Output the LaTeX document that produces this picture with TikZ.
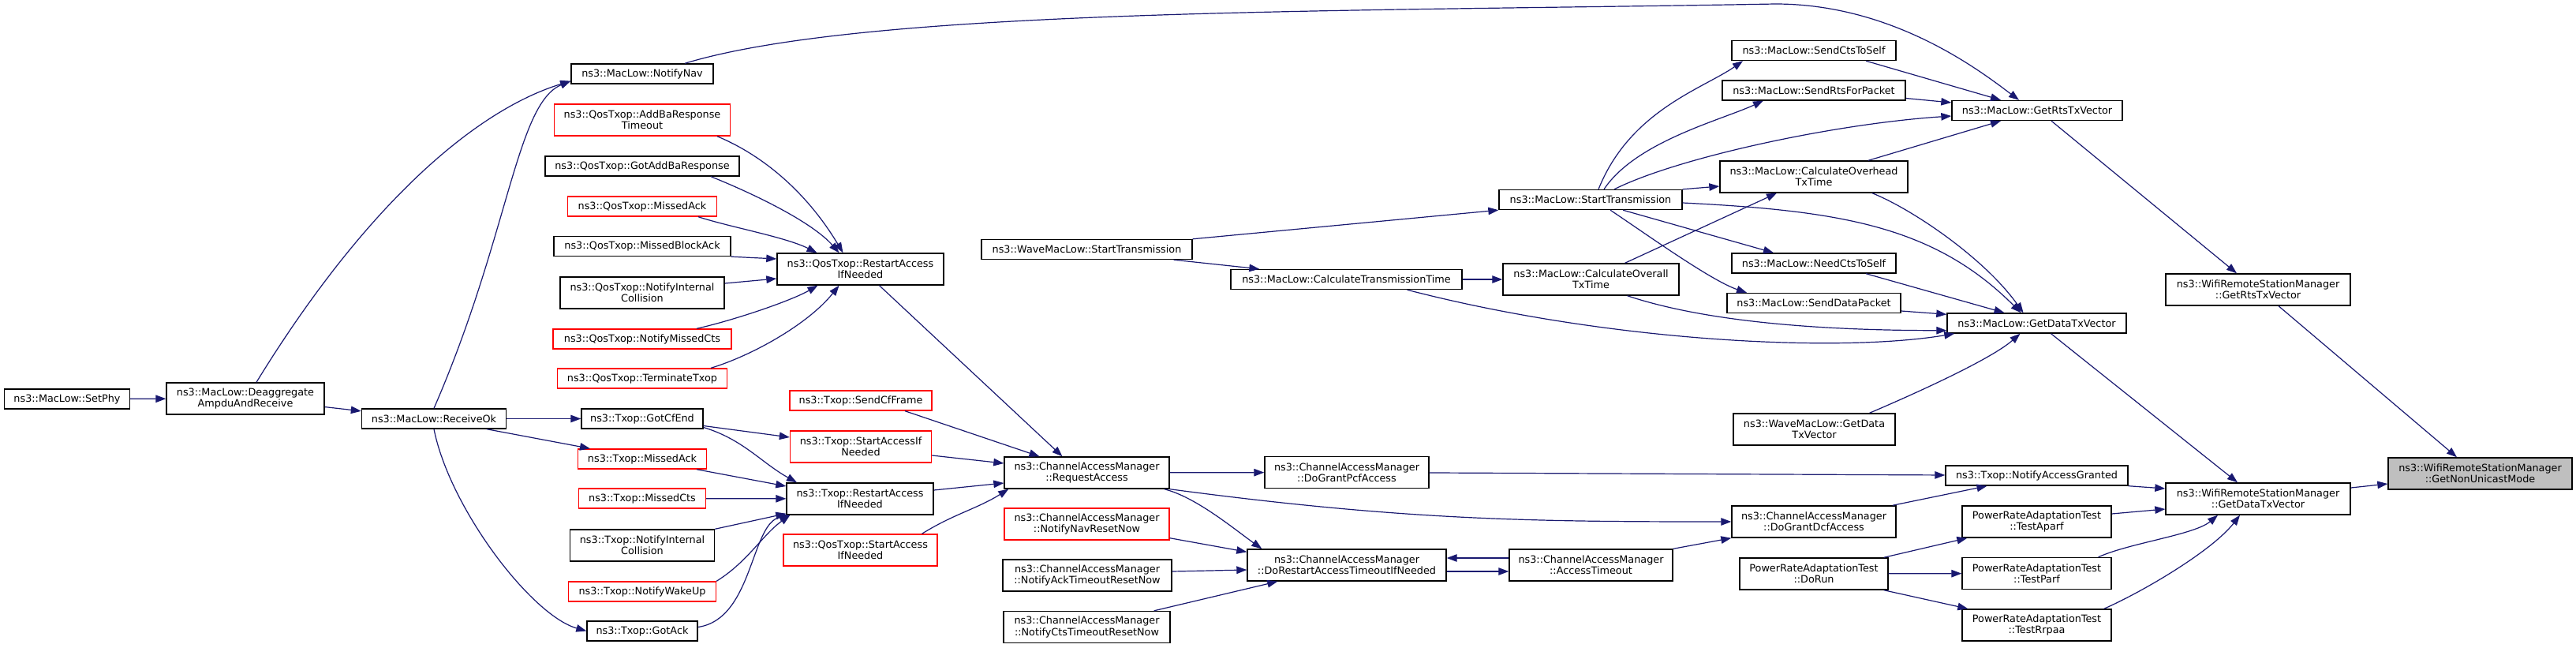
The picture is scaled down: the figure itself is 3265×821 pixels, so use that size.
\documentclass[tikz,border=0pt]{standalone}
\usepackage{fontspec}
\setmainfont{DejaVu Sans}
\usepackage{xcolor}
\definecolor{callblue}{RGB}{25,25,112}
\definecolor{fnred}{RGB}{255,0,0}
\definecolor{fngray}{RGB}{191,191,191}
\usepackage{tikz}
\usetikzlibrary{arrows.meta}

\tikzset{
  fn/.style={draw=black, fill=white, line width=1.4pt, inner sep=0pt, align=center,
    minimum height=25pt, font=\fontsize{12.8}{14.3}\selectfont},
  fntwo/.style={fn, minimum height=40pt},
  fnmiss/.style={draw=fnred},
  fnroot/.style={fntwo, fill=fngray},
  call/.style={draw=callblue, line width=1.2pt, -{Triangle[length=13pt,width=9.5pt]}}
}

\begin{document}
\begin{tikzpicture}[x=1pt, y=-1pt]
  \useasboundingbox (0,0) rectangle (3265,821);

  % --- Receive path (left) ---
  \node[fn, minimum width=159pt] (setphy) at (85,505.5) {ns3::MacLow::SetPhy};
  \node[fntwo, minimum width=200pt] (deagg) at (311,505) {ns3::MacLow::Deaggregate\\AmpduAndReceive};
  \node[fn, minimum width=183pt] (recvok) at (550,530.5) {ns3::MacLow::ReceiveOk};

  % --- QosTxop / Txop callers ---
  \node[fn, minimum width=180pt] (notifynav) at (814,93.5) {ns3::MacLow::NotifyNav};
  \node[fntwo, fnmiss, minimum width=223pt] (qaddba) at (814,152) {ns3::QosTxop::AddBaResponse\\Timeout};
  \node[fn, minimum width=246pt] (qgotaddba) at (814,210.5) {ns3::QosTxop::GotAddBaResponse};
  \node[fn, fnmiss, minimum width=189pt] (qmissedack) at (814,261.5) {ns3::QosTxop::MissedAck};
  \node[fn, minimum width=224pt] (qmissedback) at (814,312) {ns3::QosTxop::MissedBlockAck};
  \node[fntwo, minimum width=208pt] (qnic) at (814,371) {ns3::QosTxop::NotifyInternal\\Collision};
  \node[fn, fnmiss, minimum width=226pt] (qnmc) at (814,429.5) {ns3::QosTxop::NotifyMissedCts};
  \node[fn, fnmiss, minimum width=215pt] (qterm) at (814,479.5) {ns3::QosTxop::TerminateTxop};
  \node[fn, minimum width=154pt] (gotcfend) at (814,530.5) {ns3::Txop::GotCfEnd};
  \node[fn, fnmiss, minimum width=163pt] (tmissedack) at (814,581.5) {ns3::Txop::MissedAck};
  \node[fn, fnmiss, minimum width=161pt] (tmissedcts) at (814,631.5) {ns3::Txop::MissedCts};
  \node[fntwo, minimum width=183pt] (tnic) at (814,691) {ns3::Txop::NotifyInternal\\Collision};
  \node[fn, fnmiss, minimum width=187pt] (twakeup) at (814,749.5) {ns3::Txop::NotifyWakeUp};
  \node[fn, minimum width=140pt] (gotack) at (814,799.5) {ns3::Txop::GotAck};

  % --- RestartAccess / StartAccess ---
  \node[fntwo, minimum width=211pt] (qrestart) at (1090.5,341) {ns3::QosTxop::RestartAccess\\IfNeeded};
  \node[fn, fnmiss, minimum width=180pt] (sendcf) at (1091,507.5) {ns3::Txop::SendCfFrame};
  \node[fntwo, fnmiss, minimum width=179pt] (tstartacc) at (1091,566) {ns3::Txop::StartAccessIf\\Needed};
  \node[fntwo, minimum width=186pt] (trestart) at (1090,632) {ns3::Txop::RestartAccess\\IfNeeded};
  \node[fntwo, fnmiss, minimum width=195pt] (qstartacc) at (1090.5,697) {ns3::QosTxop::StartAccess\\IfNeeded};

  % --- ChannelAccessManager ---
  \node[fn, minimum width=267pt] (wavestart) at (1377.5,316) {ns3::WaveMacLow::StartTransmission};
  \node[fntwo, minimum width=209pt] (reqacc) at (1377.5,599) {ns3::ChannelAccessManager\\::RequestAccess};
  \node[fntwo, fnmiss, minimum width=209pt] (navreset) at (1377.5,664) {ns3::ChannelAccessManager\\::NotifyNavResetNow};
  \node[fntwo, minimum width=214pt] (ackreset) at (1378,729) {ns3::ChannelAccessManager\\::NotifyAckTimeoutResetNow};
  \node[fntwo, minimum width=211pt] (ctsreset) at (1377.5,794.5) {ns3::ChannelAccessManager\\::NotifyCtsTimeoutResetNow};
  \node[fn, minimum width=293pt] (calctt) at (1706.5,354) {ns3::MacLow::CalculateTransmissionTime};
  \node[fntwo, minimum width=208pt] (dograntpcf) at (1707,598.5) {ns3::ChannelAccessManager\\::DoGrantPcfAccess};
  \node[fntwo, minimum width=252pt] (dorestart) at (1707,716) {ns3::ChannelAccessManager\\::DoRestartAccessTimeoutIfNeeded};
  \node[fn, minimum width=232pt] (starttx) at (2016,253) {ns3::MacLow::StartTransmission};
  \node[fntwo, minimum width=223pt] (calcoverall) at (2016.5,354) {ns3::MacLow::CalculateOverall\\TxTime};
  \node[fntwo, minimum width=207pt] (acctimeout) at (2016.5,716) {ns3::ChannelAccessManager\\::AccessTimeout};

  % --- MacLow ---
  \node[fn, minimum width=208pt] (sendcts) at (2299,64) {ns3::MacLow::SendCtsToSelf};
  \node[fn, minimum width=232pt] (sendrts) at (2299,114.5) {ns3::MacLow::SendRtsForPacket};
  \node[fntwo, minimum width=238pt] (calcoverhead) at (2299,224) {ns3::MacLow::CalculateOverhead\\TxTime};
  \node[fn, minimum width=208pt] (needcts) at (2299,333.5) {ns3::MacLow::NeedCtsToSelf};
  \node[fn, minimum width=220pt] (senddata) at (2299,384) {ns3::MacLow::SendDataPacket};
  \node[fntwo, minimum width=205pt] (wavegetdata) at (2299.5,544) {ns3::WaveMacLow::GetData\\TxVector};
  \node[fntwo, minimum width=208pt] (dograntdcf) at (2299,661) {ns3::ChannelAccessManager\\::DoGrantDcfAccess};
  \node[fntwo, minimum width=188pt] (dorun) at (2299,727) {PowerRateAdaptationTest\\::DoRun};
  \node[fn, minimum width=216pt] (getrts) at (2582,140) {ns3::MacLow::GetRtsTxVector};
  \node[fn, minimum width=227pt] (getdata) at (2581.5,409.5) {ns3::MacLow::GetDataTxVector};
  \node[fn, minimum width=231pt] (notifyacc) at (2581.5,602.5) {ns3::Txop::NotifyAccessGranted};
  \node[fntwo, minimum width=189pt] (aparf) at (2581.5,661) {PowerRateAdaptationTest\\::TestAparf};
  \node[fntwo, minimum width=189pt] (parf) at (2581.5,726.5) {PowerRateAdaptationTest\\::TestParf};
  \node[fntwo, minimum width=189pt] (rrpaa) at (2581.5,792) {PowerRateAdaptationTest\\::TestRrpaa};

  % --- WifiRemoteStationManager ---
  \node[fntwo, minimum width=234pt] (wgetrts) at (2862,367) {ns3::WifiRemoteStationManager\\::GetRtsTxVector};
  \node[fntwo, minimum width=234pt] (wgetdata) at (2862,632) {ns3::WifiRemoteStationManager\\::GetDataTxVector};
  \node[fnroot, minimum width=233pt] (nonunicast) at (3143.5,600) {ns3::WifiRemoteStationManager\\::GetNonUnicastMode};

  % Receive path calls
  \draw[call] (setphy) -- (deagg);
  \draw[call] (deagg.-6) -- (recvok.174);
  \draw[call] ([xshift=14pt]deagg.north) .. controls +(135,-220) and +(-124,38) .. ([yshift=4pt]notifynav.south west);
  \draw[call] (recvok.north) .. controls +(95,-218) and +(-69,28) .. ([yshift=4pt]notifynav.south west);
  \draw[call] (recvok) -- (gotcfend);
  \draw[call] ([xshift=67pt]recvok.south) -- ([xshift=-66pt]tmissedack.north);
  \draw[call] (recvok.south) .. controls +(20,100) and +(-70,-20) .. (gotack.west);

  % into QosTxop::RestartAccessIfNeeded
  \draw[call] ([xshift=95pt]qaddba.south) .. controls +(60,25) and +(-45,-75) .. ([xshift=-22pt]qrestart.north);
  \draw[call] ([xshift=87pt]qgotaddba.south) .. controls +(50,20) and +(-35,-40) .. ([xshift=-27pt]qrestart.north);
  \draw[call] ([xshift=71pt]qmissedack.south) .. controls +(40,13) and +(-40,-20) .. ([xshift=-55pt]qrestart.north);
  \draw[call] (qmissedback.south east) -- ([yshift=13pt]qrestart.west);
  \draw[call] ([yshift=12pt]qnic.east) -- ([yshift=-12pt]qrestart.west);
  \draw[call] ([xshift=69pt]qnmc.north) .. controls +(45,-10) and +(-35,20) .. ([xshift=-54pt]qrestart.south);
  \draw[call] ([xshift=87pt]qterm.north) .. controls +(50,-15) and +(-40,50) .. ([xshift=-27pt]qrestart.south);

  % into Txop::RestartAccessIfNeeded
  \draw[call] ([yshift=-9pt]gotcfend.east) -- ([yshift=12pt]tstartacc.west);
  \draw[call] ([yshift=-11pt]gotcfend.east) .. controls +(50,15) and +(-45,-25) .. ([xshift=-80pt]trestart.north);
  \draw[call] ([xshift=69pt]tmissedack.south) -- ([yshift=16pt]trestart.west);
  \draw[call] (tmissedcts) -- (trestart);
  \draw[call] (tnic.north east) -- ([yshift=2pt]trestart.south west);
  \draw[call] (twakeup.north east) .. controls +(40,-25) and +(-35,25) .. ([xshift=5pt]trestart.south west);
  \draw[call] ([yshift=5pt]gotack.east) .. controls +(70,-10) and +(-50,10) .. ([xshift=5pt]trestart.south west);

  % into RequestAccess
  \draw[call] ([xshift=24pt]qrestart.south) -- ([xshift=-31pt]reqacc.north);
  \draw[call] ([xshift=56pt]sendcf.south) -- ([xshift=-60pt]reqacc.north);
  \draw[call] ([yshift=-11pt]tstartacc.east) -- ([yshift=12pt]reqacc.west);
  \draw[call] ([yshift=11pt]trestart.east) -- ([yshift=-13pt]reqacc.west);
  \draw[call] ([xshift=78pt]qstartacc.north) .. controls +(40,-25) and +(-40,25) .. ([xshift=6pt]reqacc.south west);

  % ChannelAccessManager calls
  \draw[call] (reqacc) -- (dograntpcf);
  \draw[call] ([xshift=-7pt]reqacc.south east) .. controls +(40,10) and +(-35,-25) .. ([xshift=19pt]dorestart.north west);
  \draw[call] (reqacc.south east) .. controls +(300,40) and +(-250,0) .. (dograntdcf.west);
  \draw[call] ([yshift=3pt]navreset.south east) -- ([yshift=-4pt]dorestart.north west);
  \draw[call] ([yshift=5pt]ackreset.east) -- ([yshift=-6pt]dorestart.west);
  \draw[call] ([xshift=-21pt]ctsreset.north east) -- ([xshift=39pt]dorestart.south west);
  \draw[call] ([yshift=9pt]acctimeout.west) -- ([yshift=9pt]dorestart.east);
  \draw[call] ([yshift=-8pt]dorestart.east) -- ([yshift=-8pt]acctimeout.west);
  \draw[call] (acctimeout.north east) -- (dograntdcf.south west);
  \draw[call] (dograntpcf) -- (notifyacc);
  \draw[call] ([xshift=-5pt]dograntdcf.north east) -- ([xshift=-63pt]notifyacc.south);

  % PowerRateAdaptationTest
  \draw[call] ([xshift=-6pt]dorun.north east) -- ([xshift=7pt]aparf.south west);
  \draw[call] (dorun) -- (parf);
  \draw[call] ([xshift=-6pt]dorun.south east) -- ([xshift=8pt]rrpaa.north west);

  % MacLow calls
  \draw[call] (wavestart.north east) -- (starttx.south west);
  \draw[call] ([xshift=-24pt]wavestart.south east) -- ([xshift=37pt]calctt.north west);
  \draw[call] (calctt) -- (calcoverall);
  \draw[call] ([xshift=77pt]calctt.south) .. controls +(250,65) and +(-150,25) .. ([xshift=10pt]getdata.south west);
  \draw[call] ([xshift=46pt]calcoverall.south) .. controls +(90,30) and +(-180,0) .. ([yshift=4pt]getdata.south west);
  \draw[call] ([xshift=43pt]calcoverall.north) -- ([xshift=-47pt]calcoverhead.south);
  \draw[call] ([xshift=10pt]starttx.north) .. controls +(40,-100) and +(-50,35) .. ([xshift=-90pt]sendcts.south);
  \draw[call] ([xshift=17pt]starttx.north) .. controls +(40,-60) and +(-55,25) .. ([xshift=-64pt]sendrts.south);
  \draw[call] ([xshift=30pt]starttx.north) .. controls +(80,-40) and +(-150,10) .. ([yshift=-7pt]getrts.west);
  \draw[call] (starttx.north east) -- ([yshift=-12pt]calcoverhead.west);
  \draw[call] ([xshift=41pt]starttx.south) -- ([xshift=-51pt]needcts.north);
  \draw[call] ([xshift=25pt]starttx.south) .. controls +(45,30) and +(-45,-15) .. ([xshift=-85pt]senddata.north);
  \draw[call] ([yshift=-4pt]starttx.east) .. controls +(200,10) and +(-110,-110) .. ([xshift=-20pt]getdata.north);
  \draw[call] ([xshift=66pt]sendcts.south) -- ([xshift=-46pt]getrts.north);
  \draw[call] ([yshift=-10pt]sendrts.east) -- ([yshift=10pt]getrts.west);
  \draw[call] ([xshift=69pt]calcoverhead.north) -- ([xshift=-46pt]getrts.south);
  \draw[call] ([xshift=74pt]calcoverhead.south) .. controls +(50,20) and +(-50,-70) .. ([xshift=-17pt]getdata.north);
  \draw[call] ([xshift=66pt]needcts.south) -- ([xshift=-41pt]getdata.north);
  \draw[call] ([yshift=-10pt]senddata.east) -- ([yshift=-2pt]getdata.north west);
  \draw[call] ([xshift=70pt]wavegetdata.north) .. controls +(40,-17) and +(-40,35) .. ([xshift=-21pt]getdata.south);
  \draw[call] ([xshift=54pt]notifynav.north) .. controls (1100,10) and (1700,15) .. (2250,5)
    .. controls (2400,5) and (2510,90) .. ([xshift=-23pt]getrts.north);

  % WifiRemoteStationManager calls
  \draw[call] (notifyacc.south east) -- ([yshift=13pt]wgetdata.west);
  \draw[call] ([yshift=10pt]aparf.east) -- ([yshift=-13pt]wgetdata.west);
  \draw[call] ([xshift=78pt]parf.north) .. controls +(40,-18) and +(-30,25) .. ([xshift=-51pt]wgetdata.south);
  \draw[call] ([xshift=-10pt]rrpaa.north east) .. controls +(50,-22) and +(-35,45) .. ([xshift=-23pt]wgetdata.south);
  \draw[call] ([xshift=18pt]getdata.south) -- ([xshift=-26pt]wgetdata.north);
  \draw[call] ([xshift=18pt]getrts.south) -- ([xshift=-27pt]wgetrts.north);
  \draw[call] ([yshift=14pt]wgetdata.east) -- ([yshift=-13pt]nonunicast.west);
  \draw[call] ([xshift=26pt]wgetrts.south) -- ([xshift=-29.5pt]nonunicast.north);
\end{tikzpicture}
\end{document}
